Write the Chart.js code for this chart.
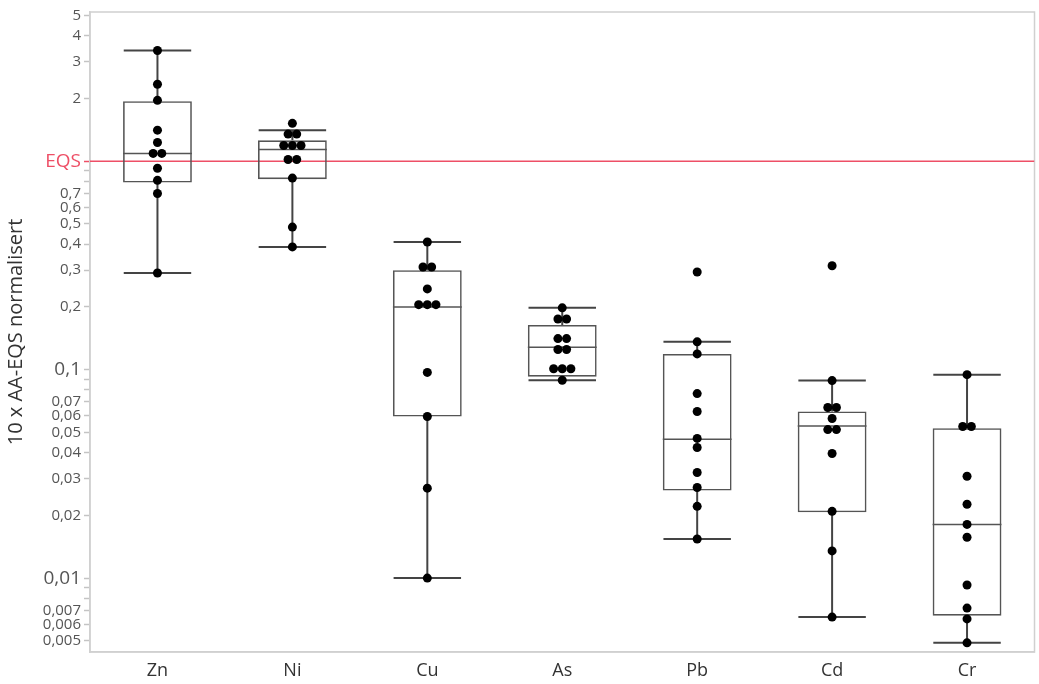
<!DOCTYPE html>
<html lang="no">
<head>
<meta charset="UTF-8">
<title>10 x AA-EQS normalisert</title>
<script src="https://cdn.jsdelivr.net/npm/chart.js"></script>
<style>
    body {
        margin: 0;
        background: #fff;
    }
    #chart {
        display: block;
    }
</style>
</head>
<body>
<canvas id="chart" width="1039" height="684"></canvas>
<script>
// categories
var metals = ['Zn', 'Ni', 'Cu', 'As', 'Pb', 'Cd', 'Cr'];

// individual values per metal (equal values sit side by side)
var valZn = [3.40, 2.34, 1.96, 1.41, 1.23, 1.09, 1.09, 0.926, 0.81, 0.70, 0.291];
var valNi = [1.52, 1.35, 1.35, 1.19, 1.19, 1.19, 1.02, 1.02, 0.83, 0.483, 0.388];
var valCu = [0.41, 0.311, 0.311, 0.244, 0.205, 0.205, 0.205, 0.097, 0.0596, 0.027, 0.01];
var valAs = [0.198, 0.175, 0.175, 0.141, 0.141, 0.125, 0.125, 0.101, 0.101, 0.101, 0.089];
var valPb = [0.294, 0.136, 0.119, 0.0768, 0.063, 0.0468, 0.0423, 0.0321, 0.0272, 0.0221, 0.0154];
var valCd = [0.315, 0.0886, 0.0658, 0.0658, 0.0583, 0.0516, 0.0516, 0.0396, 0.0209, 0.0135, 0.0065];
var valCr = [0.0946, 0.0534, 0.0534, 0.0308, 0.0226, 0.0181, 0.0157, 0.00927, 0.00718, 0.00637, 0.00489];

// box statistics
var whiskerLow  = [0.291, 0.388, 0.01, 0.089, 0.0154, 0.0065, 0.00489];
var q1          = [0.79, 0.82, 0.0596, 0.0926, 0.0263, 0.0207, 0.0066];
var median      = [1.09, 1.14, 0.20, 0.128, 0.0464, 0.0537, 0.0181];
var q3          = [1.94, 1.26, 0.30, 0.164, 0.119, 0.063, 0.0524];
var whiskerHigh = [3.40, 1.41, 0.41, 0.198, 0.136, 0.0886, 0.0946];

var eqsLevel = 1;

// y tick values, and the ones that get a label
var yTicks = [0.005, 0.006, 0.007, 0.008, 0.009,
              0.01, 0.02, 0.03, 0.04, 0.05, 0.06, 0.07, 0.08, 0.09,
              0.1, 0.2, 0.3, 0.4, 0.5, 0.6, 0.7, 0.8, 0.9,
              1, 2, 3, 4, 5];
var yUnlabelled = [0.008, 0.009, 0.08, 0.09, 0.8, 0.9];
var yBigLabels = [0.1, 0.01];

var allValues = [valZn, valNi, valCu, valAs, valPb, valCd, valCr];

var RED = '#ee4f66';
var FONT = "'Open Sans', 'Noto Sans', sans-serif";

// spread equal values sideways so the dots sit next to each other
function spread(vals) {
    var count = {}, used = {};
    vals.forEach(function (v) { count[v] = (count[v] || 0) + 1; });
    return vals.map(function (v) {
        used[v] = used[v] === undefined ? 0 : used[v] + 1;
        return (used[v] - (count[v] - 1) / 2) * 0.064;
    });
}

var dots = [];
allValues.forEach(function (vals, i) {
    var off = spread(vals);
    vals.forEach(function (v, j) { dots.push({x: i + off[j], y: v}); });
});

var boxes = metals.map(function (m, i) {
    return {x: i, y: [q1[i], q3[i]]};
});

var whiskers = [];
var medians = [];
metals.forEach(function (m, i) {
    whiskers.push({x: i, y: q3[i]}, {x: i, y: whiskerHigh[i]}, {x: i, y: null});
    whiskers.push({x: i, y: q1[i]}, {x: i, y: whiskerLow[i]}, {x: i, y: null});
    whiskers.push({x: i - 0.25, y: whiskerHigh[i]}, {x: i + 0.25, y: whiskerHigh[i]}, {x: i, y: null});
    whiskers.push({x: i - 0.25, y: whiskerLow[i]}, {x: i + 0.25, y: whiskerLow[i]}, {x: i, y: null});
    medians.push({x: i - 0.255, y: median[i]}, {x: i + 0.255, y: median[i]}, {x: i, y: null});
});

var framePlugin = {
    id: 'frame',
    beforeDatasetsDraw: function (chart) {
        var a = chart.chartArea, c = chart.ctx;
        c.save();
        c.strokeStyle = '#d0d0d0';
        c.lineWidth = 1.5;
        c.strokeRect(a.left, a.top, a.right - a.left, a.bottom - a.top);
        c.restore();
    }
};

new Chart(document.getElementById('chart'), {
    type: 'scatter',
    data: {
        datasets: [
            {
                type: 'scatter',
                data: dots,
                pointRadius: 4.5,
                pointHoverRadius: 4.5,
                pointBackgroundColor: '#000',
                pointBorderWidth: 0
            },
            {
                type: 'line',
                data: medians,
                borderColor: '#555',
                borderWidth: 1.5,
                pointRadius: 0,
                spanGaps: false
            },
            {
                type: 'line',
                data: whiskers,
                borderColor: '#444',
                borderWidth: 2,
                pointRadius: 0,
                spanGaps: false
            },
            {
                type: 'bar',
                data: boxes,
                backgroundColor: 'rgba(0,0,0,0)',
                borderColor: '#555',
                borderWidth: 1.6,
                borderSkipped: false,
                barPercentage: 0.51,
                categoryPercentage: 1
            },
            {
                type: 'line',
                data: [{x: -0.5, y: eqsLevel}, {x: 6.5, y: eqsLevel}],
                borderColor: RED,
                borderWidth: 1.5,
                pointRadius: 0
            }
        ]
    },
    options: {
        responsive: false,
        animation: false,
        layout: {padding: {top: 7, right: 2, left: 0, bottom: 0}},
        plugins: {
            legend: {display: false},
            tooltip: {enabled: false}
        },
        scales: {
            x: {
                type: 'linear',
                offset: false,
                min: -0.5,
                max: 6.5,
                afterBuildTicks: function (s) {
                    s.ticks = metals.map(function (m, i) { return {value: i}; });
                },
                afterFit: function (s) { s.height = 32; },
                ticks: {
                    padding: 8,
                    autoSkip: false,
                    maxRotation: 0,
                    color: '#333',
                    font: {family: FONT, size: 18},
                    callback: function (v) { return metals[v]; }
                },
                grid: {display: false, drawTicks: false},
                border: {color: '#d0d0d0', width: 1.5}
            },
            y: {
                type: 'logarithmic',
                min: 0.00442,
                max: 5.2,
                afterBuildTicks: function (s) {
                    s.ticks = yTicks.map(function (v) { return {value: v}; });
                },
                afterFit: function (s) { s.width = 90; },
                ticks: {
                    autoSkip: false,
                    padding: 3,
                    callback: function (v) {
                        if (v === eqsLevel) return 'EQS';
                        if (yUnlabelled.indexOf(v) >= 0) return '';
                        return String(v).replace('.', ',');
                    },
                    color: function (ctx) {
                        return ctx.tick && ctx.tick.value === eqsLevel ? RED : '#555';
                    },
                    font: function (ctx) {
                        var v = ctx.tick ? ctx.tick.value : 0;
                        if (v === eqsLevel) return {family: FONT, size: 19};
                        if (yBigLabels.indexOf(v) >= 0) return {family: FONT, size: 19};
                        return {family: FONT, size: 15};
                    }
                },
                grid: {
                    drawOnChartArea: false,
                    tickLength: 6,
                    tickWidth: 1.5,
                    tickColor: function (ctx) {
                        return ctx.tick && ctx.tick.value === eqsLevel ? RED : '#c4c4c4';
                    }
                },
                border: {color: '#d0d0d0', width: 1.5},
                title: {
                    display: true,
                    text: '10 x AA-EQS normalisert',
                    color: '#333',
                    font: {family: FONT, size: 20},
                    padding: {top: 4, bottom: 0}
                }
            }
        }
    },
    plugins: [framePlugin]
});
</script>
</body>
</html>
